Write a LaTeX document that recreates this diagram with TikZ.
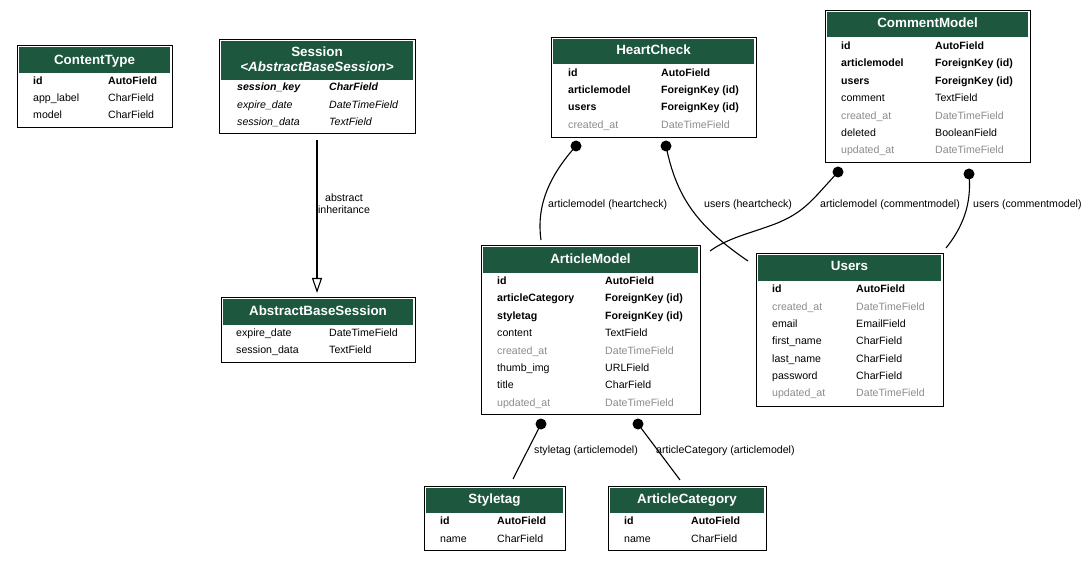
\documentclass[tikz,border=0pt]{standalone}
\usepackage{fontspec}
\setmainfont{Liberation Sans}
\usetikzlibrary{arrows.meta}
\definecolor{hdrgreen}{RGB}{28,87,62}
\definecolor{fgray}{RGB}{140,140,140}
\tikzset{
  tblbox/.style={draw=black, line width=0.9pt, inner sep=0pt, outer sep=0pt, anchor=north west, fill=white},
  hdr/.style={fill=hdrgreen},
  ttl/.style={text=white, font=\fontsize{13.4}{15}\selectfont\bfseries, inner sep=0pt, text height=9.6pt, text depth=0.4pt},
  fld/.style={anchor=west, inner sep=0pt, text height=7.8pt, text depth=0.2pt, font=\fontsize{10.6}{12}\selectfont},
  fb/.style={fld, font=\fontsize{10.6}{12}\selectfont\bfseries},
  fg/.style={fld, text=fgray},
  fi/.style={fld, font=\fontsize{10.6}{12}\selectfont\itshape},
  fbi/.style={fld, font=\fontsize{10.6}{12}\selectfont\bfseries\itshape},
  lbl/.style={inner sep=0pt, font=\fontsize{10.6}{12}\selectfont, text height=7.8pt, text depth=0.2pt},
  dotn/.style={circle, fill=black, inner sep=0pt, minimum size=11pt},
  conn/.style={line width=1.1pt},
}
\newcommand\erbox[6]{%
  \node[tblbox, minimum width={#4-#2}, minimum height={#5-#3}] (#1) at (#2,#3) {};
  \fill[hdr] (#2+2,#3+2) rectangle (#4-2,#6);
}
\begin{document}
\begin{tikzpicture}[x=1pt,y=-1pt]
\useasboundingbox (0,0) rectangle (1089,561);

% ContentType
\erbox{ct}{17}{45}{172}{127}{73}
\node[ttl] (ctT) at (94.5,60) {ContentType};
\node[fb] (ct1) at (33,81) {id};        \node[fb] (ct1t) at (108,81) {AutoField};
\node[fld] (ct2) at (33,98) {app\_label}; \node[fld] (ct2t) at (108,98) {CharField};
\node[fld] (ct3) at (33,115) {model};    \node[fld] (ct3t) at (108,115) {CharField};

% Session
\erbox{ses}{219}{39}{415}{133}{80}
\node[ttl] (sesT) at (317,52) {Session};
\node[ttl, font=\fontsize{13.4}{15}\selectfont\bfseries\itshape] (sesT2) at (317,67) {<AbstractBaseSession>};
\node[fbi] (ses1) at (237,87) {session\_key};  \node[fbi] (ses1t) at (329,87) {CharField};
\node[fi] (ses2) at (237,105) {expire\_date};  \node[fi] (ses2t) at (329,105) {DateTimeField};
\node[fi] (ses3) at (237,122) {session\_data}; \node[fi] (ses3t) at (329,122) {TextField};

% AbstractBaseSession
\erbox{abs}{221}{297}{415}{362}{325}
\node[ttl] (absT) at (318,311) {AbstractBaseSession};
\node[fld] (abs1) at (236,333) {expire\_date};  \node[fld] (abs1t) at (329,333) {DateTimeField};
\node[fld] (abs2) at (236,350) {session\_data}; \node[fld] (abs2t) at (329,350) {TextField};

% HeartCheck
\erbox{hc}{551}{37}{756}{137}{64}
\node[ttl] (hcT) at (653.5,50) {HeartCheck};
\node[fb] (hc1) at (568,73) {id};            \node[fb] (hc1t) at (661,73) {AutoField};
\node[fb] (hc2) at (568,90) {articlemodel};  \node[fb] (hc2t) at (661,90) {ForeignKey (id)};
\node[fb] (hc3) at (568,107) {users};        \node[fb] (hc3t) at (661,107) {ForeignKey (id)};
\node[fg] (hc4) at (568,125) {created\_at};  \node[fg] (hc4t) at (661,125) {DateTimeField};

% CommentModel
\erbox{cm}{825}{10}{1030}{162}{37}
\node[ttl] (cmT) at (927.5,23) {CommentModel};
\node[fb] (cm1) at (841,46) {id};            \node[fb] (cm1t) at (935,46) {AutoField};
\node[fb] (cm2) at (841,63) {articlemodel};  \node[fb] (cm2t) at (935,63) {ForeignKey (id)};
\node[fb] (cm3) at (841,81) {users};         \node[fb] (cm3t) at (935,81) {ForeignKey (id)};
\node[fld] (cm4) at (841,98) {comment};      \node[fld] (cm4t) at (935,98) {TextField};
\node[fg] (cm5) at (841,116) {created\_at};  \node[fg] (cm5t) at (935,116) {DateTimeField};
\node[fld] (cm6) at (841,133) {deleted};     \node[fld] (cm6t) at (935,133) {BooleanField};
\node[fg] (cm7) at (841,150) {updated\_at};  \node[fg] (cm7t) at (935,150) {DateTimeField};

% ArticleModel
\erbox{am}{481}{245}{700}{414}{273}
\node[ttl] (amT) at (590.5,259) {ArticleModel};
\node[fb] (am1) at (497,281) {id};              \node[fb] (am1t) at (605,281) {AutoField};
\node[fb] (am2) at (497,298) {articleCategory}; \node[fb] (am2t) at (605,298) {ForeignKey (id)};
\node[fb] (am3) at (497,316) {styletag};        \node[fb] (am3t) at (605,316) {ForeignKey (id)};
\node[fld] (am4) at (497,333) {content};        \node[fld] (am4t) at (605,333) {TextField};
\node[fg] (am5) at (497,351) {created\_at};     \node[fg] (am5t) at (605,351) {DateTimeField};
\node[fld] (am6) at (497,368) {thumb\_img};     \node[fld] (am6t) at (605,368) {URLField};
\node[fld] (am7) at (497,385) {title};          \node[fld] (am7t) at (605,385) {CharField};
\node[fg] (am8) at (497,403) {updated\_at};     \node[fg] (am8t) at (605,403) {DateTimeField};

% Users
\erbox{us}{756}{253}{943}{406}{281}
\node[ttl] (usT) at (849.5,266) {Users};
\node[fb] (us1) at (772,289) {id};           \node[fb] (us1t) at (856,289) {AutoField};
\node[fg] (us2) at (772,307) {created\_at};  \node[fg] (us2t) at (856,307) {DateTimeField};
\node[fld] (us3) at (772,324) {email};       \node[fld] (us3t) at (856,324) {EmailField};
\node[fld] (us4) at (772,341) {first\_name}; \node[fld] (us4t) at (856,341) {CharField};
\node[fld] (us5) at (772,359) {last\_name};  \node[fld] (us5t) at (856,359) {CharField};
\node[fld] (us6) at (772,376) {password};    \node[fld] (us6t) at (856,376) {CharField};
\node[fg] (us7) at (772,393) {updated\_at};  \node[fg] (us7t) at (856,393) {DateTimeField};

% Styletag
\erbox{st}{424}{486}{565}{550}{513}
\node[ttl] (stT) at (494.5,499) {Styletag};
\node[fb] (st1) at (440,521) {id};    \node[fb] (st1t) at (497,521) {AutoField};
\node[fld] (st2) at (440,539) {name}; \node[fld] (st2t) at (497,539) {CharField};

% ArticleCategory
\erbox{ac}{608}{486}{766}{550}{513}
\node[ttl] (acT) at (687,499) {ArticleCategory};
\node[fb] (ac1) at (624,521) {id};    \node[fb] (ac1t) at (691,521) {AutoField};
\node[fld] (ac2) at (624,539) {name}; \node[fld] (ac2t) at (691,539) {CharField};

% inheritance
\coordinate (sesB) at (317,140);
\coordinate (absTop) at (317,293);
\draw[conn, -{Triangle[open, width=10pt, length=15pt]}] (sesB) -- (absTop);
\node[lbl] (inh1) at (344,198) {abstract};
\node[lbl] (inh2) at (344,210) {inheritance};

% relations
\node[dotn] (d1) at (576,146) {};
\node[dotn] (d2) at (666,146) {};
\node[dotn] (d3) at (838,172) {};
\node[dotn] (d4) at (969,174) {};
\node[dotn] (d5) at (541,424) {};
\node[dotn] (d6) at (638,424) {};
\coordinate (e1) at (541,240);
\coordinate (e2) at (748,261);
\coordinate (e3) at (710,251);
\coordinate (e4) at (946,248);
\coordinate (e5) at (513,479);
\coordinate (e6) at (680,480);

\draw[conn] (d1.center) .. controls (550,175) and (536,205) .. (e1);
\draw[conn] (d2.center) .. controls (676,195) and (695,225) .. (e2);
\draw[conn] (d3.center) .. controls (812,200) and (805,212) .. (775,224) .. controls (748,234) and (728,238) .. (e3);
\draw[conn] (d4.center) .. controls (972,205) and (962,228) .. (e4);
\draw[conn] (d5.center) -- (e5);
\draw[conn] (d6.center) -- (e6);

\node[lbl, anchor=west] (l1) at (548,204) {articlemodel (heartcheck)};
\node[lbl, anchor=west] (l2) at (704,204) {users (heartcheck)};
\node[lbl, anchor=west] (l3) at (820,204) {articlemodel (commentmodel)};
\node[lbl, anchor=west] (l4) at (973,204) {users (commentmodel)};
\node[lbl, anchor=west] (l5) at (534,450) {styletag (articlemodel)};
\node[lbl, anchor=west] (l6) at (656,450) {articleCategory (articlemodel)};
\end{tikzpicture}
\end{document}
